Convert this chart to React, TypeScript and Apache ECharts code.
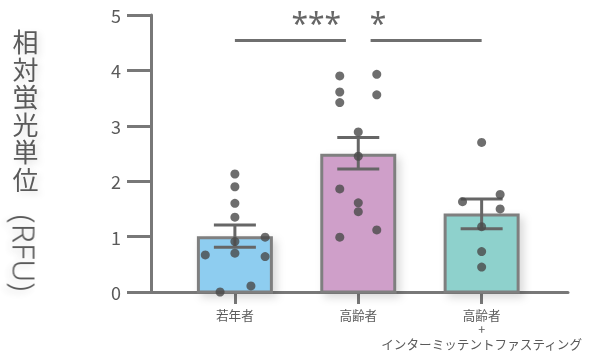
import React, { useEffect, useRef } from "react";
import * as echarts from "echarts";

// ---- data ----
const categories = ["若年者", "高齢者", "高齢者\n+\nインターミッテントファスティング"];
const means = [0.98, 2.47, 1.39];
const errLow = [0.81, 2.22, 1.14];
const errHigh = [1.21, 2.79, 1.68];
// individual points: [x jitter offset, value]
const youngPoints = [[0, 2.13], [0, 1.9], [0, 1.6], [0, 1.35], [0.245, 0.99], [0, 0.91], [0, 0.7], [-0.24, 0.67], [0.245, 0.64], [0.13, 0.11], [-0.12, 0.0]];
const oldPoints = [[-0.15, 3.9], [0.15, 3.93], [-0.15, 3.61], [-0.15, 3.42], [0.15, 3.56], [0, 2.89], [0, 2.45], [-0.15, 1.86], [0, 1.61], [0, 1.45], [0.15, 1.12], [-0.15, 0.99]];
const ifPoints = [[0, 2.7], [0.15, 1.76], [-0.155, 1.63], [0.15, 1.5], [0, 1.18], [0, 0.73], [0, 0.45]];
const yTicks = [0, 1, 2, 3, 4, 5];
// significance brackets: [x start, x end, y]
const sigLines = [[0, 0.9, 4.54], [1.1, 2, 4.54]];
const sigLabels = ["***", "*"];
const sigLabelPos = [[0.66, 4.87], [1.16, 4.87]];
const yTitle = "相対蛍光単位";
const yUnit = "(RFU)";

const barColors = ["#8ecdf0", "#cf9fc9", "#8ed1cc"];
const FONT = "'Noto Sans CJK JP', 'Noto Sans', sans-serif";
const AXIS_COLOR = "#787878";
const TEXT_COLOR = "#5a5a5a";

export default function App() {
  const ref = useRef<HTMLDivElement>(null);
  useEffect(() => {
    document.body.style.margin = "0";
    const chart = echarts.init(ref.current!, null, { renderer: "svg" });
    const pointGroups = [youngPoints, oldPoints, ifPoints];
    const scatterData: number[][] = [];
    pointGroups.forEach((g, i) => g.forEach(([dx, v]) => scatterData.push([i + dx, v])));

    const shadow = {
      textShadowColor: "rgba(0,0,0,0.12)",
      textShadowBlur: 6,
      textShadowOffsetX: 3,
      textShadowOffsetY: 3,
    };

    const titleChars = yTitle.split("").map((ch, i) => ({
      type: "text",
      x: 25.5,
      y: 40.5 + i * 27.5,
      style: {
        text: ch,
        fontSize: 26,
        lineHeight: 27,
        fill: TEXT_COLOR,
        fontFamily: FONT,
        align: "center",
        verticalAlign: "middle",
        ...shadow,
      },
    }));

    const option: any = {
      animation: false,
      grid: { left: 151, right: 24, top: 15, bottom: 66, containLabel: false },
      xAxis: {
        type: "value",
        min: -0.68,
        max: 2.7,
        splitLine: { show: false },
        axisLine: { show: true, onZero: true, lineStyle: { color: AXIS_COLOR, width: 3 } },
        axisTick: { show: true, customValues: [0, 1, 2], length: 12, lineStyle: { color: AXIS_COLOR, width: 3 } },
        axisLabel: {
          show: true,
          customValues: [0, 1, 2],
          formatter: (v: number) => categories[Math.round(v)],
          fontSize: 12.6,
          lineHeight: 14.6,
          color: TEXT_COLOR,
          fontFamily: FONT,
          margin: 15,
        },
      },
      yAxis: {
        type: "value",
        min: 0,
        max: 5,
        interval: 1,
        splitLine: { show: false },
        axisLine: { show: true, onZero: false, lineStyle: { color: AXIS_COLOR, width: 3 } },
        axisTick: { show: true, length: 24, lineStyle: { color: AXIS_COLOR, width: 3 } },
        axisLabel: {
          fontSize: 18,
          color: TEXT_COLOR,
          fontFamily: FONT,
          margin: 30,
          formatter: (v: number) => (yTicks.includes(v) ? String(v) : ""),
        },
      },
      graphic: [
        ...titleChars,
        {
          type: "text",
          x: 25.5,
          y: 253,
          rotation: -Math.PI / 2,
          style: {
            text: yUnit,
            fontSize: 32,
            lineHeight: 28,
            fontWeight: 300,
            fill: TEXT_COLOR,
            fontFamily: "'Noto Sans', 'Open Sans', sans-serif",
            align: "center",
            verticalAlign: "middle",
            ...shadow,
          },
        },
      ],
      series: [
        {
          type: "custom",
          name: "bars",
          z: 3,
          data: means.map((m, i) => [i, m]),
          renderItem: (params: any, api: any) => {
            const x = api.value(0);
            const v = api.value(1);
            const top = api.coord([x, v]);
            const base = api.coord([x, 0]);
            const halfW = 36.5;
            return {
              type: "rect",
              shape: { x: top[0] - halfW, y: top[1], width: halfW * 2, height: base[1] - top[1] },
              style: {
                fill: barColors[params.dataIndex],
                stroke: "#7f7f7f",
                lineWidth: 3,
                shadowColor: "rgba(0,0,0,0.15)",
                shadowBlur: 8,
                shadowOffsetX: 4,
                shadowOffsetY: 4,
              },
            };
          },
        },
        {
          type: "custom",
          name: "errors",
          z: 4,
          data: means.map((m, i) => [i, errLow[i], errHigh[i]]),
          renderItem: (params: any, api: any) => {
            const x = api.value(0);
            const lo = api.coord([x, api.value(1)]);
            const hi = api.coord([x, api.value(2)]);
            const cap = 21;
            const st = { stroke: "#666666", lineWidth: 3 };
            return {
              type: "group",
              children: [
                { type: "line", shape: { x1: lo[0], y1: lo[1], x2: hi[0], y2: hi[1] }, style: st },
                { type: "line", shape: { x1: hi[0] - cap, y1: hi[1], x2: hi[0] + cap, y2: hi[1] }, style: st },
                { type: "line", shape: { x1: lo[0] - cap, y1: lo[1], x2: lo[0] + cap, y2: lo[1] }, style: st },
              ],
            };
          },
        },
        {
          type: "scatter",
          name: "points",
          z: 5,
          symbol: "circle",
          symbolSize: 9,
          itemStyle: { color: "#4a4a4a" },
          data: scatterData,
        },
        {
          type: "custom",
          name: "significance",
          z: 4,
          data: sigLines.map((s, i) => [s[0], s[1], s[2], sigLabelPos[i][0], sigLabelPos[i][1]]),
          renderItem: (params: any, api: any) => {
            const a = api.coord([api.value(0), api.value(2)]);
            const b = api.coord([api.value(1), api.value(2)]);
            const t = api.coord([api.value(3), api.value(4)]);
            return {
              type: "group",
              children: [
                {
                  type: "line",
                  shape: { x1: a[0], y1: a[1], x2: b[0], y2: b[1] },
                  style: { stroke: "#6f6f6f", lineWidth: 3 },
                },
                {
                  type: "text",
                  x: t[0],
                  y: t[1],
                  style: {
                    text: sigLabels[params.dataIndex],
                    fontSize: 30,
                    fill: "#666666",
                    fontFamily: "'Noto Sans', sans-serif",
                    align: "center",
                    verticalAlign: "middle",
                  },
                },
              ],
            };
          },
        },
      ],
    };
    chart.setOption(option);
    return () => chart.dispose();
  }, []);
  return <div ref={ref} style={{ position: "fixed", left: 0, top: 0, width: 592, height: 358 }} />;
}
